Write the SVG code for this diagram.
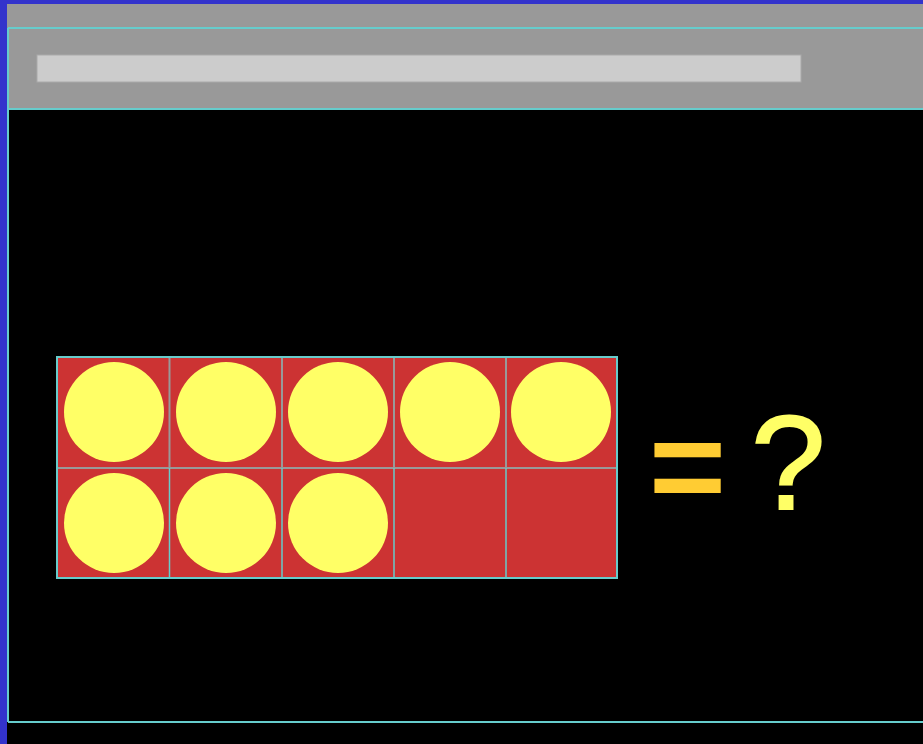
<svg xmlns="http://www.w3.org/2000/svg" width="923" height="744" viewBox="0 0 923 744">
<style>
.ln{stroke:#66cccc;stroke-width:2;fill:none}
.dot{fill:#ffff66}
.cell{fill:#cc3333}
.gl{stroke:#999999;stroke-width:2}
.cl{stroke:#66cccc;stroke-width:1.5}
</style>
<rect x="0" y="0" width="923" height="744" fill="#3333cc"/>
<rect x="7" y="4" width="916" height="740" fill="#000000"/>
<rect x="7" y="4" width="916" height="106" fill="#999999"/>
<rect x="37" y="55" width="764" height="27" fill="#cccccc" stroke="#aaaaaa" stroke-width="1"/>
<line class="ln" x1="8" y1="28" x2="923" y2="28"/>
<line class="ln" x1="8" y1="109" x2="923" y2="109"/>
<line class="ln" x1="8" y1="28" x2="8" y2="722"/>
<line class="ln" x1="8" y1="722" x2="923" y2="722" stroke="#339999"/>
<g id="frame">
<rect class="cell" x="57" y="357" width="560" height="221"/>
<line class="gl" x1="57" y1="468" x2="617" y2="468"/>
<line class="gl" x1="169.5" y1="357" x2="169.5" y2="468"/>
<line class="gl" x1="282" y1="357" x2="282" y2="468"/>
<line class="gl" x1="394" y1="357" x2="394" y2="468"/>
<line class="gl" x1="506" y1="357" x2="506" y2="468"/>
<line class="cl" x1="169.5" y1="468" x2="169.5" y2="578" stroke="#88aaaa"/>
<line class="cl" x1="282" y1="468" x2="282" y2="578" stroke="#88aaaa"/>
<line class="cl" x1="394" y1="468" x2="394" y2="578"/>
<line class="cl" x1="506" y1="468" x2="506" y2="578"/>
<rect x="57" y="357" width="560" height="221" fill="none" stroke="#66cccc" stroke-width="2"/>
</g>
<g id="dots">
<circle class="dot" cx="114" cy="412" r="50"/>
<circle class="dot" cx="226" cy="412" r="50"/>
<circle class="dot" cx="338" cy="412" r="50"/>
<circle class="dot" cx="450" cy="412" r="50"/>
<circle class="dot" cx="561" cy="412" r="50"/>
<circle class="dot" cx="114" cy="523" r="50"/>
<circle class="dot" cx="226" cy="523" r="50"/>
<circle class="dot" cx="338" cy="523" r="50"/>
</g>
<g id="equation">
<text x="649" y="512" font-family="Liberation Sans, Arial, sans-serif" font-weight="bold" font-size="132" fill="#ffcc33">=</text>
<text x="751" y="509" font-family="Liberation Sans, Arial, sans-serif" font-size="134" fill="#ffff66" stroke="#ffff66" stroke-width="2">?</text>
</g>
</svg>
